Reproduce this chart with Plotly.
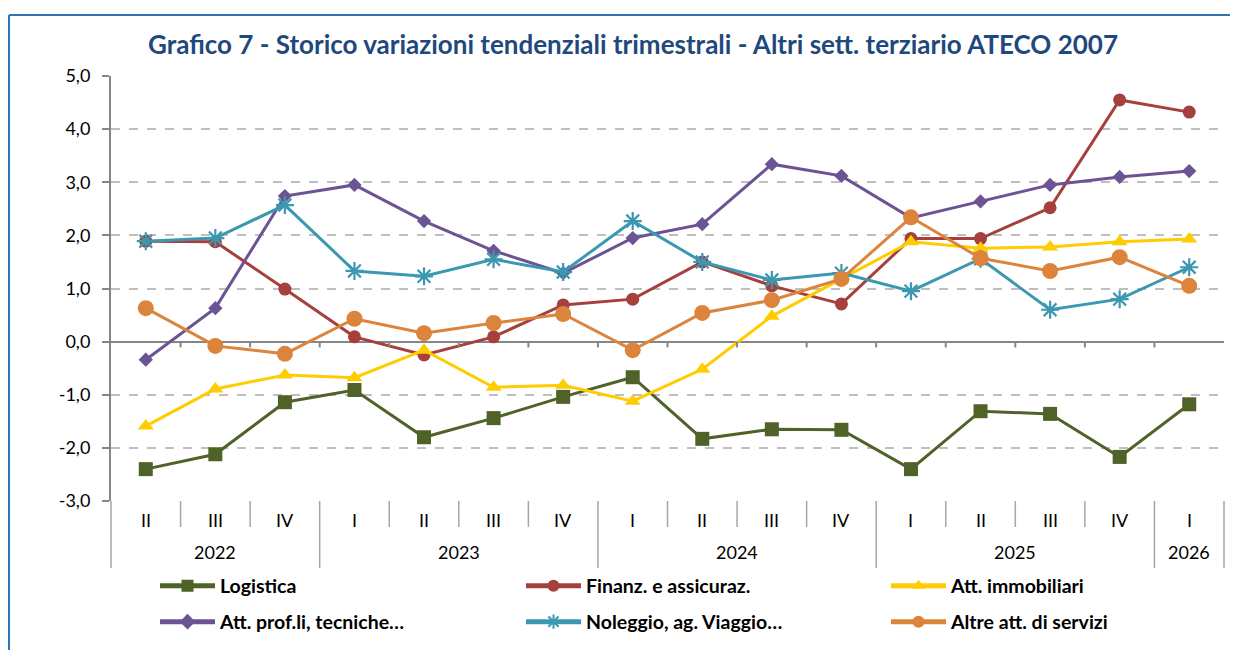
import plotly.graph_objects as go

quarters = ["II", "III", "IV", "I", "II", "III", "IV", "I", "II", "III", "IV", "I", "II", "III", "IV", "I"]
years = ["2022", "2023", "2024", "2025", "2026"]
year_spans = [3, 4, 4, 4, 1]
y_ticks = [-3, -2, -1, 0, 1, 2, 3, 4, 5]

logistica = [-2.40, -2.12, -1.14, -0.91, -1.80, -1.44, -1.04, -0.67, -1.83, -1.65, -1.66, -2.40, -1.31, -1.36, -2.17, -1.18]
finanz = [1.89, 1.88, 0.99, 0.09, -0.25, 0.09, 0.69, 0.80, 1.50, 1.05, 0.71, 1.94, 1.94, 2.52, 4.55, 4.32]
immobiliari = [-1.59, -0.89, -0.63, -0.68, -0.16, -0.86, -0.82, -1.12, -0.52, 0.48, 1.18, 1.88, 1.76, 1.78, 1.88, 1.93]
prof = [-0.34, 0.63, 2.74, 2.95, 2.27, 1.71, 1.29, 1.95, 2.21, 3.34, 3.12, 2.33, 2.64, 2.95, 3.10, 3.21]
noleggio = [1.89, 1.95, 2.57, 1.33, 1.23, 1.55, 1.31, 2.27, 1.50, 1.16, 1.29, 0.95, 1.56, 0.60, 0.80, 1.40]
altre = [0.63, -0.08, -0.23, 0.43, 0.16, 0.35, 0.52, -0.16, 0.54, 0.78, 1.18, 2.34, 1.57, 1.33, 1.59, 1.05]

series_names = ["Logistica", "Finanz. e assicuraz.", "Att. immobiliari",
                "Att. prof.li, tecniche\u2026", "Noleggio, ag. Viaggio\u2026", "Altre att. di servizi"]
series_values = [logistica, finanz, immobiliari, prof, noleggio, altre]
colors = ["#4F6228", "#A5403D", "#FFCC00", "#6B5394", "#3C98B0", "#DC843C"]
symbols = ["square", "circle", "triangle-up", "diamond", "asterisk-open", "circle"]
msizes = [14, 13, 14, 11, 15, 16]

FONT = "Lato"
n = len(quarters)
x = list(range(n))

# page has an 8px body margin: figure is drawn at (8, 8) in the window
OFF = 8
W, H = 1238 - OFF, 650 - OFF
# plot area in window pixels: x 111..1224, y 76..501
PL, PR, PT, PB = 111, 1224, 76, 501
L, T = PL - OFF, PT - OFF
R = W - (PR - OFF)
B = H - (PB - OFF)
pw = PR - PL
ph = PB - PT


def wx(px):  # window px -> paper x
    return (px - PL) / pw


def wy(py):  # window py -> paper y
    return (PB - py) / ph


fig = go.Figure()

# legend columns: left edge of legend box (window px), row centres (window py)
leg_cols = [155, 521, 886]
leg_rows = [586, 622]
legend_layouts = {}
for k, (name, vals, col, sym, ms) in enumerate(zip(series_names, series_values, colors, symbols, msizes)):
    lname = "legend" if k == 0 else f"legend{k+1}"
    marker = dict(symbol=sym, size=ms, color=col)
    if sym == "asterisk-open":
        marker["line"] = dict(color=col, width=2.2)
    fig.add_trace(go.Scatter(
        x=x, y=vals, name=name, mode="lines+markers",
        line=dict(color=col, width=3), marker=marker,
        legend=lname, cliponaxis=False, showlegend=True,
    ))
    r, c = divmod(k, 3)
    legend_layouts[lname] = dict(
        x=wx(leg_cols[c]), y=wy(leg_rows[r]),
        xanchor="left", yanchor="middle", orientation="v",
        font=dict(family=FONT, size=19.5, color="#000000", weight="bold"),
        bgcolor="rgba(0,0,0,0)", itemwidth=55, itemsizing="constant",
        visible=True,
    )

shapes = []
# tick marks on zero line at category boundaries
for b in range(1, n):
    xb = b / n
    shapes.append(dict(type="line", xref="paper", yref="y", x0=xb, x1=xb, y0=0, y1=-0.11,
                       line=dict(color="#868686", width=2)))
# dividers in label area
q_bottom = wy(527)
y_bottom = wy(568)
year_bounds = [0]
for s in year_spans:
    year_bounds.append(year_bounds[-1] + s)
for b in range(0, n + 1):
    xb = b / n
    y1 = y_bottom if b in year_bounds else q_bottom
    shapes.append(dict(type="line", xref="paper", yref="paper", x0=xb, x1=xb, y0=0, y1=y1,
                       line=dict(color="#A6A6A6", width=1.5)))
# outer frame (blue)
shapes.append(dict(type="line", xref="paper", yref="paper",
                   x0=wx(9), x1=wx(1245), y0=wy(15), y1=wy(15),
                   line=dict(color="#2E75B6", width=2)))
shapes.append(dict(type="line", xref="paper", yref="paper",
                   x0=wx(9), x1=wx(9), y0=wy(15), y1=wy(660),
                   line=dict(color="#2E75B6", width=2)))

annotations = []
for i, q in enumerate(quarters):
    annotations.append(dict(text=q, x=(i + 0.5) / n, y=wy(520), xref="paper", yref="paper",
                            showarrow=False, xanchor="center", yanchor="middle",
                            font=dict(family=FONT, size=18, color="#000000")))
for j, yr in enumerate(years):
    cx = (year_bounds[j] + year_bounds[j + 1]) / 2 / n
    annotations.append(dict(text=yr, x=cx, y=wy(552), xref="paper", yref="paper",
                            showarrow=False, xanchor="center", yanchor="middle",
                            font=dict(family=FONT, size=18, color="#000000")))

tick_text = [f"{v:.1f}".replace(".", ",") for v in y_ticks]

fig.update_layout(
    width=W, height=H,
    margin=dict(l=L, r=R, t=T, b=B, autoexpand=False),
    paper_bgcolor="white", plot_bgcolor="white",
    showlegend=True,
    title=dict(text="Grafico 7 - Storico variazioni tendenziali trimestrali - Altri sett. terziario ATECO 2007",
               x=wx(633), xref="paper", xanchor="center", y=1 - (45 - OFF) / H, yanchor="middle",
               font=dict(family=FONT, size=26, color="#1F497D", weight="bold")),
    xaxis=dict(range=[-0.5, n - 0.5], showticklabels=False, showgrid=False, zeroline=False,
               showline=False, ticks=""),
    yaxis=dict(range=[-3, 5], tickvals=y_ticks, ticktext=tick_text,
               showgrid=True, gridcolor="#BFBFBF", griddash="dash", gridwidth=1.5,
               zeroline=True, zerolinecolor="#868686", zerolinewidth=2,
               showline=True, linecolor="#868686", linewidth=2,
               ticks="outside", ticklen=7, tickcolor="#868686", tickwidth=1.5,
               ticklabelstandoff=8,
               tickfont=dict(family=FONT, size=18, color="#000000")),
    shapes=shapes, annotations=annotations,
    **legend_layouts,
)

fig.write_html("out.html")
